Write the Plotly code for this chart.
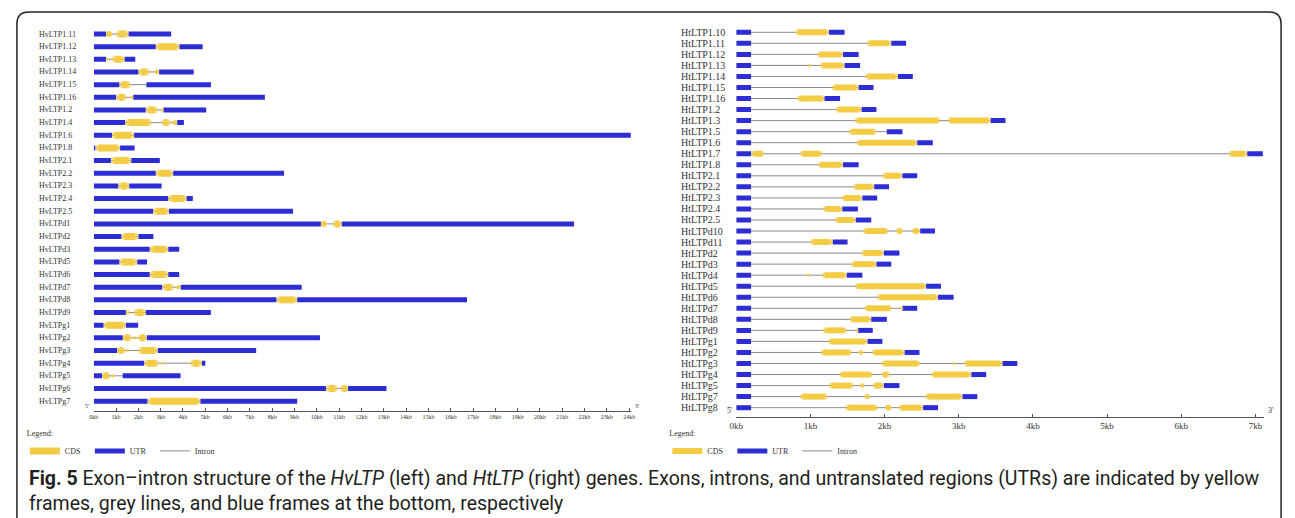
import plotly.graph_objects as go

# ---------------- data (kb) ----------------
hv_genes = ["HvLTP1.11", "HvLTP1.12", "HvLTP1.13", "HvLTP1.14", "HvLTP1.15", "HvLTP1.16",
            "HvLTP1.2", "HvLTP1.4", "HvLTP1.6", "HvLTP1.8", "HvLTP2.1", "HvLTP2.2",
            "HvLTP2.3", "HvLTP2.4", "HvLTP2.5", "HvLTPd1", "HvLTPd2", "HvLTPd3",
            "HvLTPd5", "HvLTPd6", "HvLTPd7", "HvLTPd8", "HvLTPd9", "HvLTPg1",
            "HvLTPg2", "HvLTPg3", "HvLTPg4", "HvLTPg5", "HvLTPg6", "HvLTPg7"]
hv_length = [3.47, 4.88, 1.86, 4.48, 5.25, 7.67, 5.04, 4.04, 24.07, 1.83, 2.96, 8.53,
             3.04, 4.44, 8.93, 21.53, 2.67, 3.83, 2.39, 3.83, 9.32, 16.73, 5.25, 1.99,
             10.14, 7.28, 5.0, 3.89, 13.12, 9.12]
hv_utr = [
    [(0, 0.55), (1.56, 3.47)], [(0, 2.78), (3.84, 4.88)], [(0, 0.55), (1.38, 1.86)],
    [(0, 2.0), (2.93, 4.48)], [(0, 1.15), (2.36, 5.25)], [(0, 1.0), (1.77, 7.67)],
    [(0, 2.33), (3.12, 5.04)], [(0, 1.41), (3.74, 4.04)], [(0, 0.82), (1.81, 24.07)],
    [(0, 0.07), (1.18, 1.83)], [(0, 0.77), (1.68, 2.96)], [(0, 2.78), (3.56, 8.53)],
    [(0, 1.1), (1.59, 3.04)], [(0, 3.34), (4.16, 4.44)], [(0, 2.66), (3.37, 8.93)],
    [(0, 10.18), (11.12, 21.53)], [(0, 1.24), (2.0, 2.67)], [(0, 2.51), (3.34, 3.83)],
    [(0, 1.15), (1.95, 2.39)], [(0, 2.51), (3.34, 3.83)], [(0, 3.07), (3.9, 9.32)],
    [(0, 8.19), (9.12, 16.73)], [(0, 1.44), (2.33, 5.25)], [(0, 0.44), (1.44, 1.99)],
    [(0, 1.3), (2.38, 10.14)], [(0, 1.05), (2.87, 7.28)], [(0, 2.26), (4.85, 5.0)],
    [(0, 0.37), (1.3, 3.89)], [(0, 10.41), (11.4, 13.12)], [(0, 2.41), (4.78, 9.12)]]
hv_cds = [
    [(0.55, 0.82), (1.0, 1.56)], [(2.78, 3.84)], [(0.55, 0.67), (0.82, 1.38)],
    [(2.0, 2.51), (2.72, 2.93)], [(1.15, 1.65)], [(1.0, 1.47), (1.64, 1.77)],
    [(2.33, 2.87), (3.04, 3.12)], [(1.41, 2.6), (3.04, 3.44), (3.52, 3.74)], [(0.82, 1.81)],
    [(0.08, 1.18)], [(0.77, 1.68)], [(2.78, 3.56)],
    [(1.1, 1.59)], [(3.34, 4.16)], [(2.66, 3.37)],
    [(10.18, 10.44), (10.72, 11.12)], [(1.24, 2.0)], [(2.51, 3.34)],
    [(1.15, 1.95)], [(2.51, 3.34)], [(3.07, 3.59), (3.71, 3.9)],
    [(8.19, 9.12)], [(1.44, 1.61), (1.79, 2.33)], [(0.44, 1.44)],
    [(1.3, 1.7), (1.83, 1.86), (1.99, 2.38)], [(1.05, 1.39), (1.5, 1.53), (2.0, 2.87)],
    [(2.26, 2.91), (3.07, 3.11), (4.33, 4.85)],
    [(0.37, 0.73), (0.85, 0.89)], [(10.41, 10.93), (11.07, 11.4)], [(2.41, 4.78)]]

ht_genes = ["HtLTP1.10", "HtLTP1.11", "HtLTP1.12", "HtLTP1.13", "HtLTP1.14", "HtLTP1.15",
            "HtLTP1.16", "HtLTP1.2", "HtLTP1.3", "HtLTP1.5", "HtLTP1.6", "HtLTP1.7",
            "HtLTP1.8", "HtLTP2.1", "HtLTP2.2", "HtLTP2.3", "HtLTP2.4", "HtLTP2.5",
            "HtLTPd10", "HtLTPd11", "HtLTPd2", "HtLTPd3", "HtLTPd4", "HtLTPd5",
            "HtLTPd6", "HtLTPd7", "HtLTPd8", "HtLTPd9", "HtLTPg1", "HtLTPg2",
            "HtLTPg3", "HtLTPg4", "HtLTPg5", "HtLTPg7", "HtLTPg8"]
ht_length = [1.46, 2.29, 1.65, 1.67, 2.38, 1.85, 1.40, 1.89, 3.63, 2.24, 2.65, 7.10,
             1.65, 2.44, 2.06, 1.90, 1.64, 1.82, 2.68, 1.50, 2.20, 2.09, 1.70, 2.76,
             2.93, 2.44, 2.03, 1.84, 1.97, 2.47, 3.79, 3.37, 2.20, 3.25, 2.72]
ht_utr5 = [0.2] * 35
ht_utr3 = [1.25, 2.09, 1.44, 1.46, 2.18, 1.65, 1.19, 1.69, 3.43, 2.03, 2.44, 6.89,
           1.44, 2.24, 1.86, 1.70, 1.43, 1.61, 2.48, 1.30, 1.99, 1.89, 1.49, 2.56,
           2.72, 2.24, 1.82, 1.64, 1.77, 2.27, 3.59, 3.17, 1.99, 3.05, 2.52]
ht_cds = [
    [(0.8, 1.25)], [(1.76, 2.09)], [(1.09, 1.44)], [(0.98, 1.0), (1.13, 1.46)],
    [(1.74, 2.18)], [(1.29, 1.65)], [(0.82, 1.19)], [(1.34, 1.69)],
    [(1.6, 2.75), (2.85, 3.43)], [(1.52, 1.89)], [(1.62, 2.44)],
    [(0.2, 0.38), (0.86, 1.16), (6.64, 6.89)], [(1.10, 1.44)], [(1.97, 2.24)],
    [(1.58, 1.86)], [(1.42, 1.70)], [(1.17, 1.43)], [(1.33, 1.61)],
    [(1.71, 2.05), (2.16, 2.24), (2.37, 2.48)], [(1.0, 1.30)], [(1.69, 1.99)],
    [(1.55, 1.89)], [(0.96, 0.98), (1.16, 1.49)], [(1.60, 2.56)], [(1.90, 2.72)],
    [(1.73, 2.10), (2.22, 2.24)], [(1.53, 1.82)], [(1.17, 1.49), (1.62, 1.64)],
    [(1.24, 1.77)], [(1.14, 1.56), (1.65, 1.71), (1.83, 2.27)],
    [(1.96, 2.48), (2.93, 2.95), (3.07, 3.59)], [(1.39, 1.84), (1.96, 2.07), (2.63, 3.17)],
    [(1.25, 1.58), (1.67, 1.73), (1.84, 1.99)], [(0.86, 1.23), (1.73, 1.80), (2.55, 3.05)],
    [(1.47, 1.91), (2.01, 2.09), (2.19, 2.52)]]
ht_utr = [[(0, a), (b, L)] for a, b, L in zip(ht_utr5, ht_utr3, ht_length)]

hv_ticks = list(range(0, 25))
ht_ticks = list(range(0, 8))

# ---------------- styling ----------------
W, H = 1295, 518
CDS_COL = "#f4cc44"
UTR_COL = "#2d2dd6"
INTRON = "#8a8a8a"
SERIF = "Liberation Serif, Times New Roman, serif"

# geometry (pixel anchored)
hv_x0, hv_pxkb = 87.5, 22.5
hv_xr = [0, 24.1]
hv_row0, hv_step, hv_axis_py, top_py = 34.0, 12.66, 411.0, 20.0
hv_yr = [(hv_axis_py - hv_row0) / hv_step, (top_py - hv_row0) / hv_step]

ht_x0, ht_pxkb = 735.5, 74.8
ht_xr = [0, 7.12]
ht_row0, ht_step, ht_axis_py = 32.3, 11.04, 417.0
ht_yr = [(ht_axis_py - ht_row0) / ht_step, (top_py - ht_row0) / ht_step]


def panel(length, utr, cds, xa, ya, utr_px, cds_px, pxkb, legend):
    tr = []
    ix, iy = [], []
    for i, L in enumerate(length):
        ix += [0, L, None]
        iy += [i, i, None]
    tr.append(go.Scatter(x=ix, y=iy, mode="lines", line=dict(color=INTRON, width=1),
                         xaxis=xa, yaxis=ya, name="Intron", legend=legend, legendrank=3,
                         hoverinfo="skip"))
    ux, uy = [], []
    for i, segs in enumerate(utr):
        for s, e in segs:
            ux += [s, e, None]
            uy += [i, i, None]
    tr.append(go.Scatter(x=ux, y=uy, mode="lines", line=dict(color=UTR_COL, width=utr_px),
                         xaxis=xa, yaxis=ya, name="UTR", legend=legend, legendrank=2,
                         hoverinfo="skip"))
    # CDS: thick line with round ends (circle markers), inset so ends stay at s and e
    r = cds_px / 2 / pxkb
    cx, cy, cs = [], [], []
    for i, segs in enumerate(cds):
        for s, e in segs:
            a, b = s + r, e - r
            size = cds_px
            if b < a:
                a = b = (s + e) / 2
                size = max(3.0, (e - s) * pxkb)
            cx += [a, b, None]
            cy += [i, i, None]
            cs += [size, size, 0]
    tr.append(go.Scatter(x=cx, y=cy, mode="lines+markers",
                         line=dict(color=CDS_COL, width=cds_px),
                         marker=dict(color=CDS_COL, size=cs, line=dict(width=0)),
                         xaxis=xa, yaxis=ya, name="CDS", legend=legend, legendrank=1,
                         hoverinfo="skip"))
    return tr


fig = go.Figure()
for t in panel(hv_length, hv_utr, hv_cds, "x", "y", 5, 7, hv_pxkb, "legend"):
    fig.add_trace(t)
for t in panel(ht_length, ht_utr, ht_cds, "x2", "y2", 5, 6, ht_pxkb, "legend2"):
    fig.add_trace(t)

hv_xdom = [hv_x0 / W, (hv_x0 + hv_xr[1] * hv_pxkb) / W]
hv_ydom = [1 - hv_axis_py / H, 1 - top_py / H]
ht_xdom = [ht_x0 / W, (ht_x0 + ht_xr[1] * ht_pxkb) / W]
ht_ydom = [1 - ht_axis_py / H, 1 - top_py / H]

axis_common = dict(showgrid=False, zeroline=False, showline=True, linecolor="#555555",
                   linewidth=1, ticks="inside", ticklen=3, tickcolor="#555555",
                   fixedrange=True)
hidden = dict(visible=False, showgrid=False, zeroline=False, fixedrange=True)
leg_common = dict(xanchor="left", yanchor="top", orientation="h",
                  title=dict(text="Legend:", side="top",
                             font=dict(family=SERIF, size=8, color="#333")),
                  font=dict(family=SERIF, size=8, color="#333"), itemwidth=30,
                  entrywidth=20, entrywidthmode="pixels",
                  bgcolor="rgba(0,0,0,0)", tracegroupgap=0)
fig.update_layout(
    width=W, height=H, margin=dict(l=0, r=0, t=0, b=0),
    paper_bgcolor="white", plot_bgcolor="rgba(0,0,0,0)",
    showlegend=True,
    xaxis=dict(domain=hv_xdom, range=hv_xr,
               tickvals=hv_ticks, ticktext=[f"{k}kb" for k in hv_ticks],
               tickfont=dict(family=SERIF, size=6, color="#333"), anchor="y", **axis_common),
    yaxis=dict(domain=hv_ydom, range=hv_yr, anchor="x", **hidden),
    xaxis2=dict(domain=ht_xdom, range=ht_xr,
                tickvals=ht_ticks, ticktext=[f"{k}kb" for k in ht_ticks],
                tickfont=dict(family=SERIF, size=9, color="#333"), anchor="y2", **axis_common),
    yaxis2=dict(domain=ht_ydom, range=ht_yr, anchor="x2", **hidden),
    legend=dict(x=18 / W, y=1 - 426 / H, **leg_common),
    legend2=dict(x=666 / W, y=1 - 426 / H, **leg_common),
)

ann = []
for i, g in enumerate(hv_genes):
    ann.append(dict(text=g, x=30 / W, xref="paper", y=i, yref="y", xanchor="left",
                    yanchor="middle", showarrow=False,
                    font=dict(family=SERIF, size=8, color="#333")))
for i, g in enumerate(ht_genes):
    ann.append(dict(text=g, x=678 / W, xref="paper", y=i, yref="y2", xanchor="left",
                    yanchor="middle", showarrow=False,
                    font=dict(family=SERIF, size=10, color="#333")))
ann += [
    dict(text="5'", x=0, xref="x", y=hv_yr[0], yref="y", xanchor="right", yanchor="bottom",
         xshift=-3, showarrow=False, font=dict(family=SERIF, size=6, color="#333")),
    dict(text="3'", x=24, xref="x", y=hv_yr[0], yref="y", xanchor="left", yanchor="bottom",
         xshift=4, showarrow=False, font=dict(family=SERIF, size=6, color="#333")),
    dict(text="5'", x=0, xref="x2", y=ht_yr[0], yref="y2", xanchor="right", yanchor="bottom",
         xshift=-1, showarrow=False, font=dict(family=SERIF, size=8, color="#333")),
    dict(text="3'", x=7.12, xref="x2", y=ht_yr[0], yref="y2", xanchor="left",
         yanchor="bottom", xshift=2, showarrow=False,
         font=dict(family=SERIF, size=8, color="#333")),
]
CAP = "Roboto, Noto Sans, sans-serif"
ann += [
    dict(text="<b>Fig. 5</b> Exon–intron structure of the <i>HvLTP</i> (left) and <i>HtLTP</i> "
              "(right) genes. Exons, introns, and untranslated regions (UTRs) are indicated by yellow",
         x=20 / W, y=1 - 478 / H, xref="paper", yref="paper", xanchor="left", yanchor="middle",
         showarrow=False, font=dict(family=CAP, size=19.5, color="#231f20")),
    dict(text="frames, grey lines, and blue frames at the bottom, respectively",
         x=20 / W, y=1 - 503 / H, xref="paper", yref="paper", xanchor="left", yanchor="middle",
         showarrow=False, font=dict(family=CAP, size=19.5, color="#231f20")),
]
fig.update_layout(annotations=ann)

# rounded frame
x0, x1, yt, yb = 10 / W, 1285 / W, 1 - 12 / H, -0.2
rx, ry = 12 / W, 12 / H
path = (f"M {x0 + rx} {yt} L {x1 - rx} {yt} Q {x1} {yt} {x1} {yt - ry} L {x1} {yb} "
        f"L {x0} {yb} L {x0} {yt - ry} Q {x0} {yt} {x0 + rx} {yt} Z")
fig.add_shape(type="path", path=path, xref="paper", yref="paper",
              line=dict(color="#222", width=1.5), layer="below")

fig.write_html("out.html", config={"displayModeBar": False},
               post_script="document.body.style.margin='0px';")
